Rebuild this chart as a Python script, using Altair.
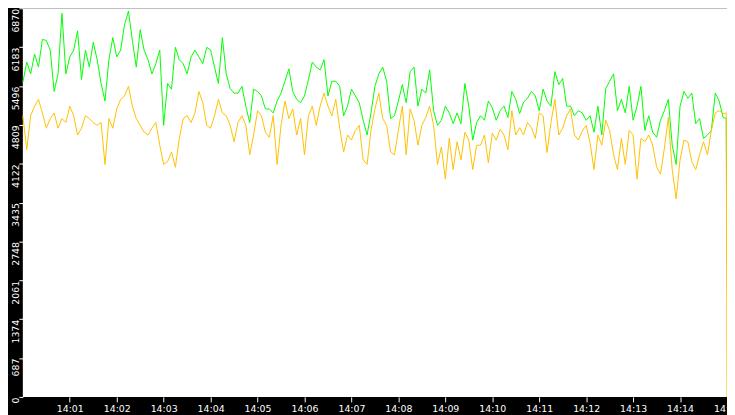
import altair as alt
import pandas as pd

# sample times in seconds after 14:00:00 (every 5 s, plus the final drop)
seconds = [5 * k for k in range(180)] + [899, 900]

green = [
    5560, 5920, 5710, 6060, 5830, 6320, 6300, 6130, 5400, 5710,
    6780, 5710, 6010, 6130, 6470, 5610, 6130, 5830, 6270, 5960,
    5540, 5230, 5960, 6350, 6010, 6130, 6580, 6820, 6300, 5830,
    6490, 6130, 5960, 5710, 5890, 6130, 4800, 5540, 5440, 6180,
    5960, 5890, 5710, 6010, 6130, 6010, 5890, 6180, 6130, 5830,
    5540, 6350, 5710, 5450, 5370, 5370, 5490, 5140, 4850, 5440,
    5400, 5320, 5090, 5090, 5020, 5230, 5370, 5580, 5800, 5400,
    5260, 5200, 5320, 5610, 5920, 5830, 5780, 5960, 5320, 5580,
    5580, 5490, 4970, 5140, 5440, 5320, 5200, 4890, 4630, 5020,
    5490, 5710, 5830, 5580, 4920, 4970, 5230, 5520, 5200, 5750,
    5830, 5140, 5440, 5370, 5780, 5060, 4800, 4890, 5140, 5020,
    4830, 5020, 4830, 5540, 5140, 4540, 4850, 4970, 4890, 5230,
    5110, 4890, 5060, 5140, 4940, 5400, 5260, 5010, 5210, 5280,
    5400, 5320, 5060, 5440, 5230, 5140, 5750, 5520, 5630, 5140,
    5140, 4970, 5060, 5020, 4890, 4970, 4680, 5140, 4630, 5450,
    5580, 5710, 5060, 5260, 5020, 5490, 4890, 5140, 5490, 4710,
    4970, 4680, 4590, 4890, 5060, 5260, 4450, 4110, 5140, 5400,
    5280, 5370, 4830, 4920, 4570, 4630, 4710, 5370, 5230, 4940,
    4920, 2330,
]

orange = [
    4970, 4370, 4970, 5140, 5260, 5020, 4750, 4920, 5020, 4750,
    4920, 4850, 5140, 4970, 4630, 4750, 4970, 4920, 4850, 4800,
    4850, 4110, 4920, 4750, 5090, 5260, 5320, 5490, 5140, 4920,
    4800, 4680, 4630, 4750, 4850, 4450, 4110, 4160, 4330, 4060,
    4570, 4920, 4970, 4850, 5020, 5400, 5200, 4800, 4750, 4970,
    5260, 5020, 4970, 4800, 4510, 4850, 4970, 4800, 4280, 4630,
    5060, 4970, 4680, 4590, 4970, 4110, 4800, 5230, 4920, 5090,
    4630, 4920, 4280, 4970, 5140, 4800, 5140, 5370, 5140, 4970,
    5260, 4750, 4330, 4630, 4540, 4710, 4800, 4190, 4110, 4710,
    5090, 5370, 4920, 4800, 4330, 4280, 4710, 5140, 4280, 5090,
    4890, 4450, 4800, 4940, 5140, 4800, 4110, 4420, 3850, 4570,
    4020, 4510, 4190, 4680, 4540, 4020, 4450, 4450, 4630, 4140,
    4660, 4540, 4730, 4630, 4370, 5060, 4630, 4760, 4630, 4850,
    4760, 4570, 5020, 4970, 4320, 4850, 5260, 4630, 4750, 4970,
    5090, 4630, 4540, 4700, 4800, 4490, 4020, 4630, 4450, 4890,
    4710, 4280, 4020, 4570, 4110, 4710, 4630, 3850, 4570, 4510,
    4630, 4450, 4070, 3940, 4400, 4940, 4020, 3500, 4190, 4540,
    4510, 4160, 4020, 4280, 4510, 4280, 4710, 5020, 5060, 5010,
    5020, 0,
]

y_ticks = [0, 687, 1374, 2061, 2748, 3435, 4122, 4809, 5496, 6183, 6870]
x_ticks = [60, 120, 180, 240, 300, 360, 420, 480, 540, 600, 660, 720, 780, 840, 900]

df = pd.DataFrame({"t": seconds, "green": green, "orange": orange})

x_enc = alt.X(
    "t:Q",
    scale=alt.Scale(domain=[0, 900], nice=False, zero=False),
    axis=alt.Axis(
        values=x_ticks,
        labelExpr="'14:' + (datum.value / 60 < 10 ? '0' : '') + (datum.value / 60)",
        title=None,
        domain=False,
        grid=False,
        tickColor="white",
        tickSize=5,
        labelColor="white",
        labelFont="DejaVu Sans",
        labelFontSize=9.5,
        labelPadding=2,
        labelOverlap=False,
        labelFlush=False,
        labelBaseline="top",
    ),
)

y_scale = alt.Scale(domain=[0, 6870], nice=False, zero=True)
y_axis = alt.Axis(
    values=y_ticks,
    format="d",
    title=None,
    domain=False,
    grid=False,
    tickColor="white",
    tickSize=4,
    labelColor="white",
    labelFont="DejaVu Sans",
    labelFontSize=9.5,
    labelAngle=270,
    labelAlign="right",
    labelBaseline="alphabetic",
    labelPadding=0,
    labelOverlap=False,
    labelFlush=False,
)

g_line = alt.Chart(df).mark_line(color="#00ff00", strokeWidth=1).encode(
    x=x_enc,
    y=alt.Y("green:Q", scale=y_scale, axis=y_axis),
)
o_line = alt.Chart(df).mark_line(color="#ffc000", strokeWidth=1).encode(
    x=x_enc,
    y=alt.Y("orange:Q", scale=y_scale, axis=y_axis),
)

chart = (
    alt.layer(g_line, o_line)
    .properties(
        width=712,
        height=393,
        background="black",
        autosize=alt.AutoSizeParams(type="none"),
        padding={"left": 15, "top": -2, "right": 0, "bottom": 16},
    )
    .configure_view(fill="white", stroke=None)
)

chart.save("out.html", embed_options={"renderer": "svg", "actions": False})
